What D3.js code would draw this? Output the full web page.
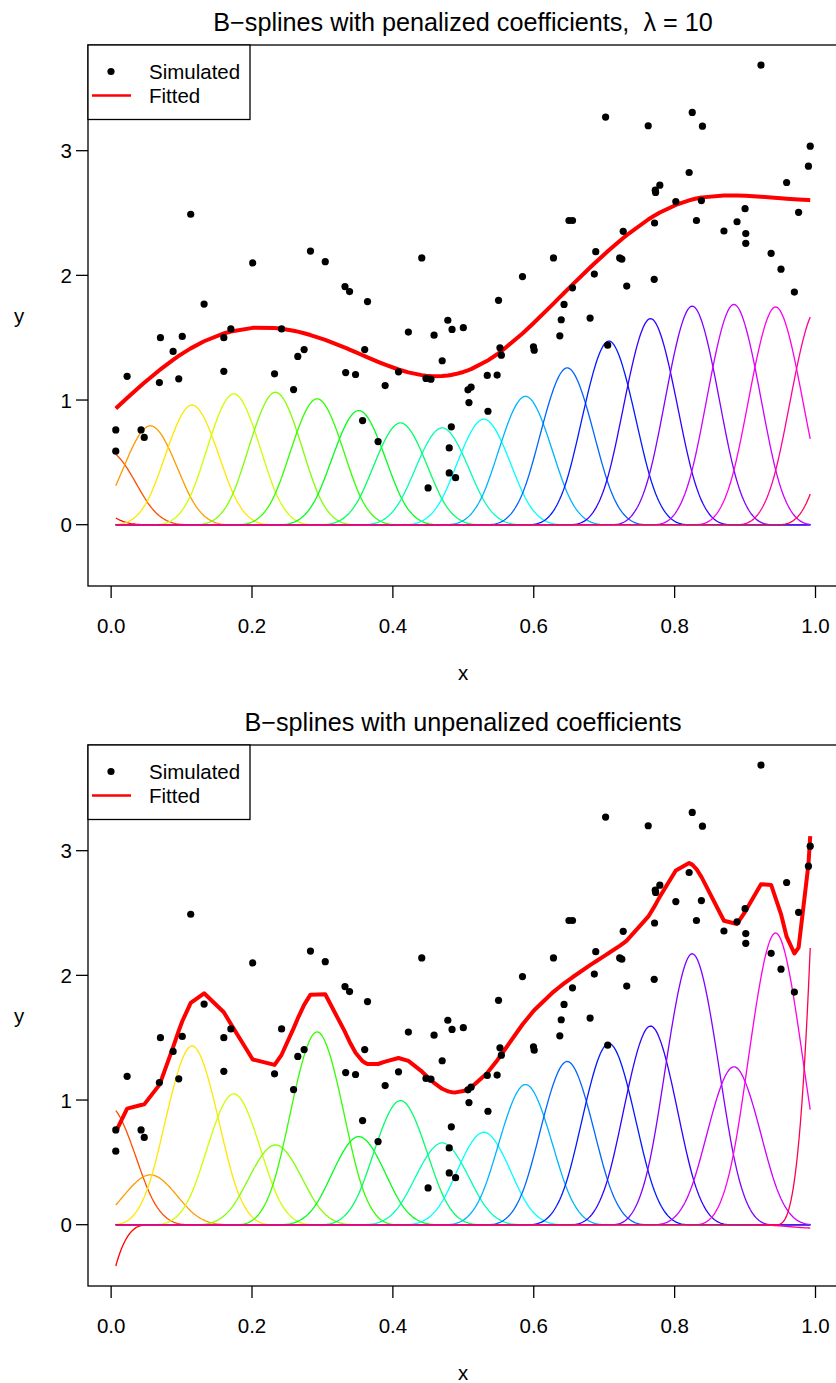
<!DOCTYPE html>
<html>
<head>
<meta charset="utf-8">
<script src="https://cdn.jsdelivr.net/npm/d3@7"></script>
<style>
  body { margin: 0; background: #ffffff; }
  svg { display: block; }
  text { font-family: "Liberation Sans", Arial, Helvetica, sans-serif; fill: #000; }
</style>
</head>
<body>
<svg id="chart" width="836" height="1383"></svg>
<script>
// ---------------- data ----------------
const pointX = [
  0.0066, 0.0066, 0.0227, 0.0425, 0.047, 0.0685, 0.070, 0.088, 0.096, 0.101,
  0.113, 0.132, 0.160, 0.160, 0.170, 0.201, 0.232,
  0.242, 0.259, 0.265, 0.274, 0.283, 0.304, 0.332, 0.333, 0.3385, 0.347,
  0.357, 0.360, 0.364, 0.379, 0.389, 0.408, 0.422, 0.441, 0.447, 0.450,
  0.454, 0.4585, 0.470, 0.478, 0.480, 0.480, 0.483, 0.484, 0.489, 0.500,
  0.5066, 0.508, 0.511, 0.534, 0.535, 0.548, 0.550, 0.552, 0.554, 0.584,
  0.5996, 0.6006, 0.628, 0.637, 0.639, 0.643, 0.650, 0.655, 0.655, 0.680,
  0.686, 0.688, 0.702, 0.705, 0.722, 0.725, 0.727, 0.732, 0.7625,
  0.771, 0.7715, 0.7725, 0.773, 0.779, 0.8017, 0.8206, 0.825, 0.831, 0.838,
  0.8395, 0.870, 0.8886, 0.900, 0.901, 0.901, 0.9226, 0.937, 0.951, 0.959,
  0.970, 0.976, 0.990, 0.9925
];
const pointY = [
  0.76, 0.59, 1.19, 0.76, 0.70, 1.14, 1.50, 1.39, 1.17, 1.51,
  2.49, 1.77, 1.50, 1.23, 1.57, 2.10, 1.21,
  1.57, 1.084, 1.35, 1.405, 2.195, 2.11, 1.91, 1.22, 1.87, 1.205,
  0.835, 1.405, 1.79, 0.667, 1.116, 1.226, 1.545, 2.14, 1.173, 0.295,
  1.167, 1.52, 1.315, 1.64, 0.616, 0.415, 0.785, 1.566, 0.377, 1.58,
  1.082, 0.98, 1.103, 1.197, 0.91, 1.20, 1.80, 1.419, 1.36, 1.99,
  1.427, 1.40, 2.14, 1.515, 1.644, 1.767, 2.44, 2.44, 1.90, 1.657,
  2.01, 2.19, 3.27, 1.44, 2.14, 2.13, 2.353, 1.914, 3.20,
  1.968, 2.42, 2.683, 2.665, 2.723, 2.592, 2.825, 3.307, 2.44, 2.60,
  3.197, 2.356, 2.43, 2.535, 2.335, 2.257, 3.687, 2.177, 2.05, 2.745,
  1.866, 2.506, 2.876, 3.036
];

// B-spline coefficients (20 cubic B-splines on 17 equal segments)
const coefPenalized = [
  0.565, 0.88, 1.19, 1.44, 1.575, 1.594, 1.515, 1.374, 1.225, 1.165,
  1.27, 1.545, 1.887, 2.21, 2.48, 2.63, 2.65, 2.62, 2.60, 2.58
];
const coefUnpenalized = [
  -3.46, 1.43, 0.60, 2.15, 1.575, 0.96, 2.32, 1.06, 1.494, 0.984,
  1.113, 1.687, 1.964, 2.18, 2.39, 3.26, 1.90, 3.51, -0.042, 23.2
];

const knotRange = [-0.0034, 1.0025];
const nSegments = 17;
const gridSize = 500;

const xTicks = [0, 0.2, 0.4, 0.6, 0.8, 1.0];
const xTickLabels = ["0.0", "0.2", "0.4", "0.6", "0.8", "1.0"];
const yTicks = [0, 1, 2, 3];
const yTickLabels = ["0", "1", "2", "3"];

const legendLabels = ["Simulated", "Fitted"];

// ---------------- helpers ----------------
const h = (knotRange[1] - knotRange[0]) / nSegments;
function basis(x, j) {
  const center = knotRange[0] + (j - 1) * h;
  const u = Math.abs(x - center) / h;
  if (u < 1) return 2 / 3 - u * u + u * u * u / 2;
  if (u < 2) return Math.pow(2 - u, 3) / 6;
  return 0;
}
const nBasis = coefPenalized.length;
const colors = d3.range(nBasis).map(i => d3.hsl(360 * i / nBasis, 1, 0.5).formatHex());

const order = d3.range(pointX.length).sort((a, b) => pointX[a] - pointX[b]);
const xsSorted = order.map(i => pointX[i]);
const xMin = d3.min(pointX), xMax = d3.max(pointX);
const grid = d3.range(gridSize).map(i => xMin + i * (xMax - xMin) / (gridSize - 1));

function basisCurves(coef) {
  return coef.map((c, j) => grid.map(x => [x, c * basis(x, j)]));
}
function fitted(coef) {
  return xsSorted.map(x => [x, d3.sum(coef, (c, j) => c * basis(x, j))]);
}

const curvesTop = basisCurves(coefPenalized);
const curvesBot = basisCurves(coefUnpenalized);
const allY = pointY.concat(
  curvesTop.flat().map(d => d[1]),
  curvesBot.flat().map(d => d[1])
);
const yMin = d3.min(allY), yMax = d3.max(allY);
const xPad = 0.04 * (xMax - xMin), yPad = 0.04 * (yMax - yMin);

// ---------------- drawing ----------------
const svg = d3.select("#chart");
const FONT = 20.5;

function panel(offsetY, coef, curves, titleBuilder) {
  const left = 88, right = 838, top = 45 + offsetY, bottom = 586 + offsetY;
  const x = d3.scaleLinear().domain([xMin - xPad, xMax + xPad]).range([left, right]);
  const y = d3.scaleLinear().domain([yMin - yPad, yMax + yPad]).range([bottom, top]);
  const g = svg.append("g");

  // title
  const t = g.append("text")
    .attr("x", (left + right) / 2).attr("y", 31 + offsetY)
    .attr("text-anchor", "middle").style("font-size", "25.2px");
  titleBuilder(t);

  const line = d3.line().x(d => x(d[0])).y(d => y(d[1]));
  const clip = "clip" + offsetY;
  g.append("clipPath").attr("id", clip).append("rect")
    .attr("x", left).attr("y", top).attr("width", right - left).attr("height", bottom - top);
  const plot = g.append("g").attr("clip-path", `url(#${clip})`);
  // basis curves
  curves.forEach((c, j) => {
    plot.append("path").attr("d", line(c)).attr("fill", "none")
      .attr("stroke", colors[j]).attr("stroke-width", 1.3);
  });
  // fitted
  plot.append("path").attr("d", line(fitted(coef))).attr("fill", "none")
    .attr("stroke", "#ff0000").attr("stroke-width", 4).attr("stroke-linejoin", "round");
  // points
  plot.selectAll("circle.pt").data(pointX).join("circle")
    .attr("cx", d => x(d)).attr("cy", (d, i) => y(pointY[i])).attr("r", 3.6).attr("fill", "#000");

  // box
  g.append("rect").attr("x", left).attr("y", top).attr("width", right - left).attr("height", bottom - top)
    .attr("fill", "none").attr("stroke", "#000").attr("stroke-width", 1.3);

  // x axis
  const tick = 12;
  xTicks.forEach((v, i) => {
    g.append("line").attr("x1", x(v)).attr("x2", x(v)).attr("y1", bottom).attr("y2", bottom + tick)
      .attr("stroke", "#000").attr("stroke-width", 1.3);
    g.append("text").attr("x", x(v)).attr("y", bottom + 47).attr("text-anchor", "middle")
      .style("font-size", FONT + "px").text(xTickLabels[i]);
  });
  // y axis
  yTicks.forEach((v, i) => {
    g.append("line").attr("x1", left - tick).attr("x2", left).attr("y1", y(v)).attr("y2", y(v))
      .attr("stroke", "#000").attr("stroke-width", 1.3);
    g.append("text").attr("x", left - 16).attr("y", y(v) + 7.5).attr("text-anchor", "end")
      .style("font-size", FONT + "px").text(yTickLabels[i]);
  });
  g.append("text").attr("x", (left + right) / 2).attr("y", bottom + 94).attr("text-anchor", "middle")
    .style("font-size", FONT + "px").text("x");
  g.append("text").attr("x", 19).attr("y", (top + bottom) / 2 + 7).attr("text-anchor", "middle")
    .style("font-size", FONT + "px").text("y");

  // legend
  const lg = g.append("g");
  lg.append("rect").attr("x", left).attr("y", top).attr("width", 162).attr("height", 74.5)
    .attr("fill", "#fff").attr("stroke", "#000").attr("stroke-width", 1.3);
  lg.append("circle").attr("cx", 111).attr("cy", top + 26.5).attr("r", 3.6).attr("fill", "#000");
  lg.append("line").attr("x1", 92).attr("x2", 131).attr("y1", top + 50.5).attr("y2", top + 50.5)
    .attr("stroke", "#ff0000").attr("stroke-width", 2.6);
  lg.append("text").attr("x", 149).attr("y", top + 34).style("font-size", FONT + "px").text(legendLabels[0]);
  lg.append("text").attr("x", 149).attr("y", top + 58).style("font-size", FONT + "px").text(legendLabels[1]);
}

panel(0, coefPenalized, curvesTop, t => {
  t.append("tspan").text("B\u2212splines with penalized coefficients,\u00a0\u00a0");
  t.append("tspan").text("\u03bb");
  t.append("tspan").text(" = 10");
});
panel(700, coefUnpenalized, curvesBot, t => {
  t.text("B\u2212splines with unpenalized coefficients");
});
</script>
</body>
</html>
